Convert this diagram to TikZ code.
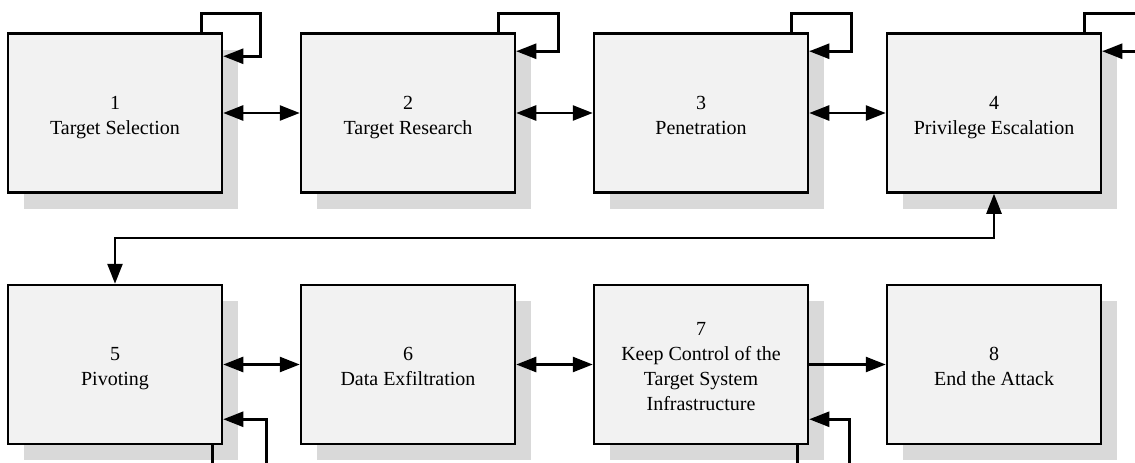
\documentclass[tikz,border=0pt]{standalone}
\usepackage{fontspec}
\setmainfont{Liberation Serif}
\usetikzlibrary{arrows.meta,shadows}
\definecolor{boxfill}{HTML}{F2F2F2}
\definecolor{shadowgray}{HTML}{D9D9D9}
% strut that gives the first line of a stage label its full line height
\newcommand\stagetop{\rule{0pt}{22pt}}
\tikzset{
  stage/.style={draw, line width=2.5pt, fill=boxfill, minimum width=214pt,
    minimum height=159pt, inner sep=0pt, align=center,
    font=\fontsize{20}{25}\selectfont,
    execute at end node={\rule[-5pt]{0pt}{5pt}},
    drop shadow={shadow xshift=16pt, shadow yshift=-16pt, fill=shadowgray, opacity=1}},
  conn/.style={line width=2.5pt, >={Triangle[length=20pt,width=15pt]}},
}
\begin{document}
\begin{tikzpicture}[x=1pt, y=-1pt]
  \useasboundingbox (0,0) rectangle (1135,463);
  \fill[white] (0,0) rectangle (1135,463);
  \clip (0,0) rectangle (1135,463);

  % upper row of stages
  \node[stage] (b1) at (115,113)   {\stagetop 1\\Target Selection};
  \node[stage] (b2) at (408,113)   {\stagetop 2\\Target Research};
  \node[stage] (b3) at (701,113)   {\stagetop 3\\Penetration};
  \node[stage] (b4) at (994,113)   {\stagetop 4\\Privilege Escalation};
  % lower row of stages
  \node[stage] (b5) at (115,364.5) {\stagetop 5\\Pivoting};
  \node[stage] (b6) at (408,364.5) {\stagetop 6\\Data Exfiltration};
  \node[stage] (b7) at (701,364.5) {\stagetop 7\\Keep Control of the\\Target System\\Infrastructure};
  \node[stage] (b8) at (994,364.5) {\stagetop 8\\End the Attack};

  % links between neighbouring stages
  \draw[conn,<->] (b1) -- (b2);
  \draw[conn,<->] (b2) -- (b3);
  \draw[conn,<->] (b3) -- (b4);
  \draw[conn,<->] (b5) -- (b6);
  \draw[conn,<->] (b6) -- (b7);
  \draw[conn,->]  (b7) -- (b8);

  % from stage 4 down to stage 5
  \draw[conn,<->] (b4.south) -- ++(0,44) -| (b5.north);

  % self loops above the upper row
  \draw[conn,->] ([xshift=-22pt]b1.north east) |- ([xshift=37pt,yshift=19pt]b1.north east)
                 |- ([yshift=-24pt]b1.north east);
  \draw[conn,->] ([xshift=-18pt]b2.north east) |- ([xshift=42pt,yshift=19pt]b2.north east)
                 |- ([yshift=-19pt]b2.north east);
  \draw[conn,->] ([xshift=-18pt]b3.north east) |- ([xshift=42pt,yshift=19pt]b3.north east)
                 |- ([yshift=-19pt]b3.north east);
  \draw[conn,->] ([xshift=-18pt]b4.north east) |- ([xshift=60pt,yshift=19pt]b4.north east)
                 |- ([yshift=-19pt]b4.north east);

  % self loops below the lower row
  \draw[conn,->] ([xshift=-11pt]b5.south east) |- ([xshift=43pt,yshift=-40pt]b5.south east)
                 |- ([yshift=26pt]b5.south east);
  \draw[conn,->] ([xshift=-12pt]b7.south east) |- ([xshift=40pt,yshift=-40pt]b7.south east)
                 |- ([yshift=26pt]b7.south east);
\end{tikzpicture}
\end{document}
